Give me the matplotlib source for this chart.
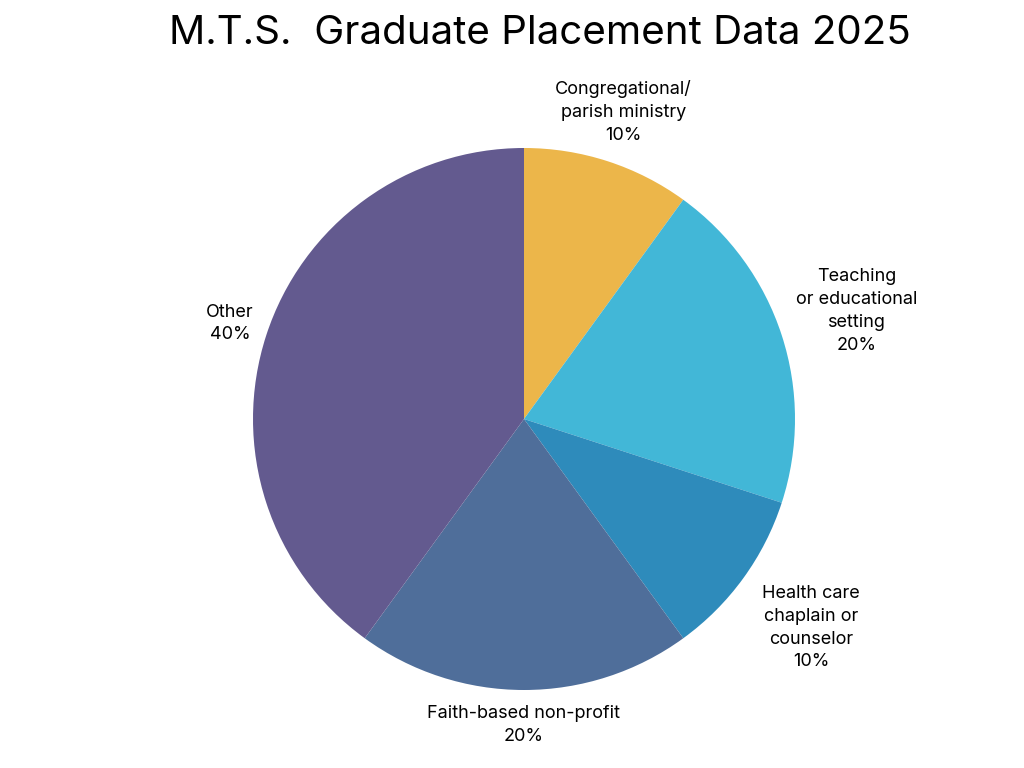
import numpy as np
import matplotlib
matplotlib.use("Agg")
import matplotlib.pyplot as plt

plt.rcParams['font.family'] = ['Inter', 'DejaVu Sans']

labels = ["Congregational/\nparish ministry", "Teaching\nor educational\nsetting",
          "Health care\nchaplain or\ncounselor", "Faith-based non-profit", "Other"]
values = [10, 20, 10, 20, 40]
colors = ["#ECB64A", "#42B7D7", "#2E8BBB", "#4F6E9A", "#635A8F"]
label_dist = [1.19, 1.29, 1.31, 1.13, 1.14]

fig = plt.figure(figsize=(10.24, 7.68), dpi=100)
w, h = 1024, 768
r = 271
cx, cy = 524, 768 - 419
lim = 1.4
ax = fig.add_axes([(cx - lim * r) / w, (cy - lim * r) / h, 2 * lim * r / w, 2 * lim * r / h])
wedges, _ = ax.pie(values, colors=colors, startangle=90, counterclock=False, radius=1)
ax.set_xlim(-lim, lim)
ax.set_ylim(-lim, lim)
ax.set_aspect('equal')
ax.axis('off')

total = sum(values)
for wd, lab, v, d in zip(wedges, labels, values, label_dist):
    ang = np.deg2rad((wd.theta1 + wd.theta2) / 2)
    ax.text(d * np.cos(ang), d * np.sin(ang), f"{lab}\n{round(100 * v / total)}%",
            ha='center', va='center', fontsize=13, linespacing=1.45)

fig.text(540 / w, 1 - 33 / h, "M.T.S.  Graduate Placement Data 2025", ha='center', va='center',
         fontsize=29)

fig.savefig("out.png", dpi=100)
